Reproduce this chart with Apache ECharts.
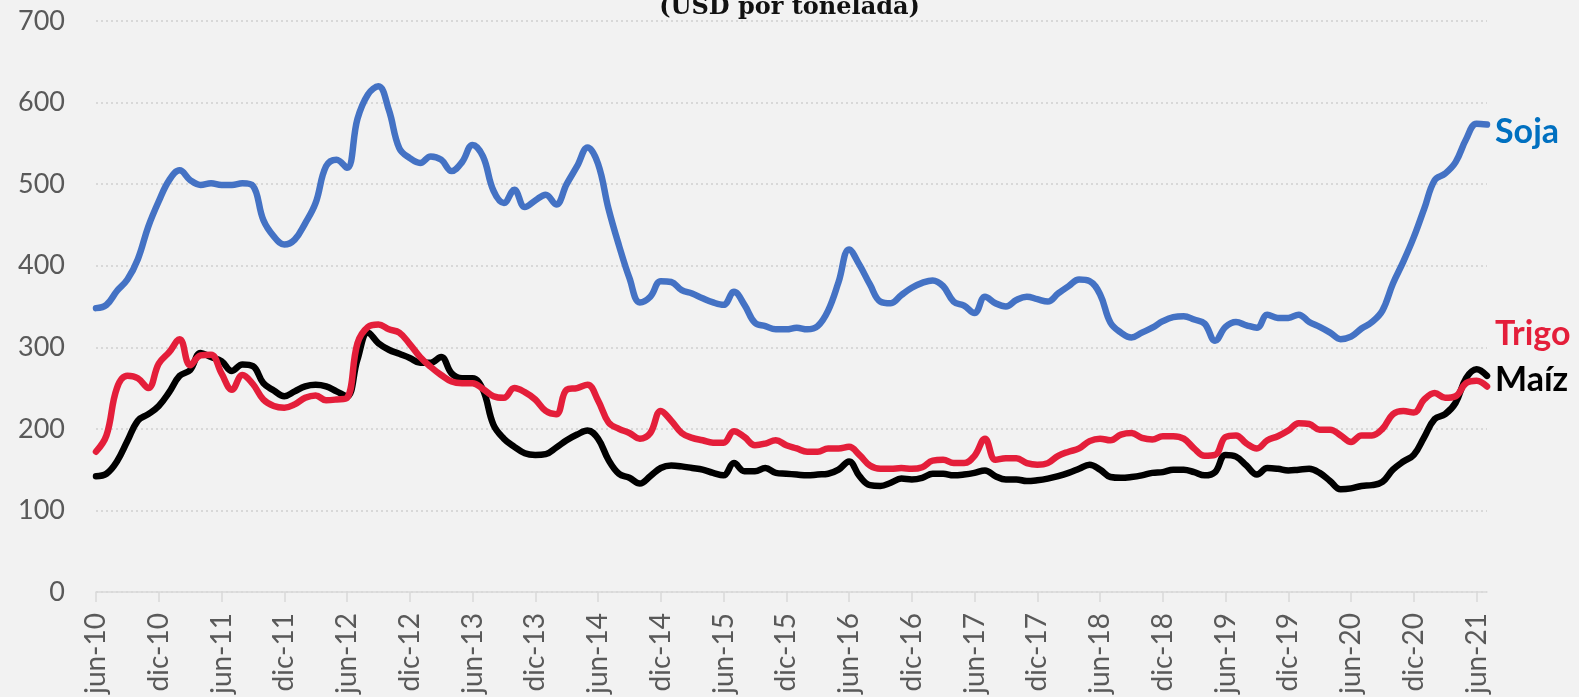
<!DOCTYPE html>
<html>
<head>
<meta charset="utf-8">
<script src="https://cdn.jsdelivr.net/npm/echarts@6/dist/echarts.min.js"></script>
<style>
  html, body { margin: 0; padding: 0; background: #f2f2f2; }
  #main { width: 1579px; height: 697px; }
</style>
</head>
<body>
<div id="main"></div>
<script>
// meses jun-10 .. jul-21
var monthNames = ['ene', 'feb', 'mar', 'abr', 'may', 'jun', 'jul', 'ago', 'sep', 'oct', 'nov', 'dic'];
var months = [];
for (var k = 0; k < 134; k++) {
  var m = (5 + k) % 12;
  var yr = 10 + Math.floor((5 + k) / 12);
  months.push(monthNames[m] + '-' + yr);
}

var soja = [
  348, 352, 369, 383, 408, 448, 479, 505, 517, 505, 499, 501,
  499, 499, 501, 498, 456, 436, 426, 432, 452, 477, 522, 530,
  520, 580, 610, 620, 591, 544, 532, 526, 534, 530, 516, 527,
  548, 534, 492, 477, 493, 472, 480, 487, 475, 500, 522, 545,
  525, 470, 425, 385, 355, 362, 381, 380, 370, 366, 360, 355,
  352, 368, 352, 330, 326, 322, 322, 324, 322, 326, 345, 380,
  420, 401, 377, 356, 354, 364, 373, 379, 382, 375, 356, 351,
  342, 362, 354, 350, 358, 362, 359, 356, 366, 375, 383, 381,
  365, 330, 318, 312, 318, 324, 332, 337, 338, 334, 329, 308,
  325, 331, 327, 324, 340, 336, 336, 340, 331, 325, 318, 310,
  313, 323, 331, 345, 378, 405, 435, 470, 505, 513, 527, 555,
  574, 573
];

var trigo = [
  172, 192, 250, 265, 262, 250, 280, 294, 310, 278, 290, 291,
  268, 248, 266, 255, 236, 228, 226, 230, 238, 241, 235, 236,
  238, 305, 325, 328, 322, 318, 304, 288, 276, 266, 258, 256,
  256, 249, 240, 238, 250, 245, 236, 222, 218, 248, 250, 254,
  235, 208, 200, 195, 188, 195, 222, 210, 195, 189, 186, 183,
  183, 197, 190, 180, 182, 186, 180, 176, 172, 172, 176, 176,
  178, 168, 155, 151, 151, 152, 151, 153, 161, 162, 158, 158,
  167, 188, 162, 164, 164, 158, 156, 158, 167, 172, 176, 185,
  188, 186, 193, 195, 189, 187, 191, 191, 188, 176, 167, 168,
  190, 192, 182, 176, 186, 191, 198, 207, 206, 199, 199, 192,
  184, 192, 192, 200, 218, 222, 220, 236, 244, 238, 240, 256,
  259, 252
];

var maiz = [
  142, 145, 160, 185, 210, 218, 228, 245, 265, 272, 293, 288,
  283, 271, 279, 277, 256, 247, 240, 246, 252, 254, 252, 246,
  240, 285, 318, 305, 297, 292, 287, 281, 281, 288, 268, 262,
  262, 248, 205, 188, 178, 170, 168, 169, 177, 186, 193, 198,
  188, 162, 145, 140, 133, 142, 152, 155, 154, 152, 150, 146,
  143, 158, 148, 148, 152, 146, 145, 144, 143, 144, 145, 150,
  160, 142, 131, 130, 134, 139, 138, 140, 145, 145, 143, 144,
  146, 149, 142, 138, 138, 136, 137, 139, 142, 146, 151, 156,
  150, 141, 140, 141, 143, 146, 147, 150, 150, 147, 143, 147,
  168, 166, 155, 144, 152, 151, 149, 150, 151, 146, 136, 126,
  127, 130, 131, 135, 150, 160, 168, 190, 212, 218, 232, 262,
  273, 265
];

var myChart = echarts.init(document.getElementById('main'));

function lineSeries(name, data, color, labelColor, offset) {
  return {
    name: name,
    type: 'line',
    data: data,
    smooth: 0.4,
    symbol: 'none',
    lineStyle: { color: color, width: 6.5, cap: 'round', join: 'round' },
    endLabel: {
      show: true,
      formatter: '{a}',
      distance: 8,
      offset: offset,
      color: labelColor,
      fontFamily: 'Lato',
      fontWeight: 'bold',
      fontSize: 34
    }
  };
}

var option = {
  backgroundColor: '#f2f2f2',
  animation: false,
  title: {
    text: '(USD por tonelada)',
    left: 'center',
    top: -9,
    textStyle: { fontFamily: 'DejaVu Serif', fontWeight: 'bold', fontSize: 24, color: '#111' }
  },
  grid: { left: 96, right: 92, top: 21, bottom: 105 },
  xAxis: {
    type: 'category',
    data: months,
    boundaryGap: false,
    axisLine: { lineStyle: { color: '#d9d9d9', width: 1.5 } },
    axisTick: { interval: 5, length: 10, lineStyle: { color: '#d9d9d9', width: 1.5 } },
    axisLabel: {
      interval: 5,
      rotate: 90,
      margin: 21,
      color: '#595959',
      fontFamily: 'Lato',
      fontSize: 28
    },
    splitLine: { show: false }
  },
  yAxis: {
    type: 'value',
    min: 0,
    max: 700,
    interval: 100,
    axisLine: { show: false },
    axisTick: { show: false },
    axisLabel: { margin: 31, color: '#595959', fontFamily: 'Lato', fontSize: 27 },
    splitLine: { lineStyle: { color: '#d0d0d0', width: 1.5, type: [2, 3] } }
  },
  series: [
    lineSeries('Maíz', maiz, '#000000', '#000000', [0, 4]),
    lineSeries('Trigo', trigo, '#e41e3a', '#e41e3a', [0, -52]),
    lineSeries('Soja', soja, '#4472c4', '#0070c0', [0, 7])
  ]
};

myChart.setOption(option);
</script>
</body>
</html>
